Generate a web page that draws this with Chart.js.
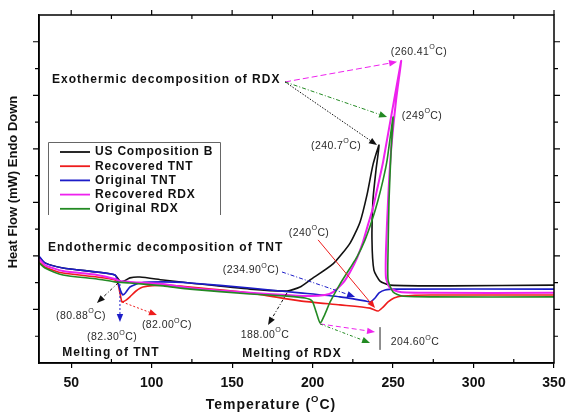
<!DOCTYPE html>
<html><head><meta charset="utf-8">
<script src="https://cdn.jsdelivr.net/npm/chart.js@4"></script>
<style>html,body{margin:0;padding:0;background:#fff}canvas{display:block}</style>
</head><body>
<canvas id="c" width="568" height="413"></canvas>
<script>
// ---- data ----
const seriesNames = ['US Composition B','Recovered TNT','Original TNT','Recovered RDX','Original RDX'];

const tempCompB = [30.0,33.7,44.9,66.0,77.2,79.7,80.9,82.8,86.5,92.7,107.1,123.8,161.1,184.1,192.2,198.4,212.7,223.3,229.5,233.8,237.5,241.3,239.4,237.5,236.9,238.1,241.9,248.1,285.4,350.0];
const heatCompB = [3.96,3.74,3.55,3.40,3.29,3.10,3.03,3.06,3.18,3.21,3.10,2.99,2.76,2.69,2.84,3.10,3.70,4.48,5.27,6.28,7.40,8.14,7.21,6.09,4.60,3.47,3.06,2.91,2.88,2.91];

const tempRecTNT = [30.0,33.7,44.9,66.0,77.2,79.1,80.3,81.6,84.1,86.5,90.3,94.6,107.1,123.8,161.1,192.2,217.0,235.7,240.7,243.8,246.9,250.6,255.6,273.0,350.0];
const heatRecTNT = [3.77,3.59,3.36,3.21,3.10,2.95,2.62,2.28,2.35,2.47,2.69,2.84,2.91,2.84,2.62,2.32,2.17,2.05,1.94,2.09,2.28,2.43,2.50,2.54,2.54];

const tempOrigTNT = [30.0,33.7,44.9,66.0,77.2,79.1,80.3,82.2,84.1,86.5,92.7,107.1,123.8,161.1,192.2,217.0,232.6,235.7,238.8,241.3,245.0,251.2,350.0];
const heatOrigTNT = [4.00,3.74,3.55,3.40,3.29,3.03,2.76,2.54,2.65,2.84,2.99,3.03,2.99,2.80,2.62,2.47,2.32,2.28,2.43,2.62,2.73,2.76,2.76];

const tempRecRDX = [30.0,33.7,44.9,66.0,77.2,80.3,86.5,107.1,123.8,161.1,184.1,198.4,207.7,212.7,218.9,223.3,227.6,231.3,234.4,237.5,240.7,243.8,255.0,251.9,248.8,246.9,245.6,245.6,248.1,254.4,273.0,350.0];
const heatRecRDX = [3.89,3.66,3.44,3.29,3.14,3.06,3.03,2.95,2.80,2.62,2.54,2.50,2.54,2.65,2.99,3.40,3.92,4.52,5.16,5.79,6.65,7.51,11.28,9.83,7.96,6.09,4.22,3.18,2.80,2.65,2.62,2.62];

const tempOrigRDX = [30.0,33.7,44.9,66.0,77.2,86.5,107.1,123.8,161.1,184.1,195.3,199.7,202.2,204.7,207.2,210.9,217.0,223.3,227.6,232.6,237.0,240.7,243.8,246.3,250.0,248.8,247.5,246.9,246.9,250.0,255.6,273.0,350.0];
const heatOrigRDX = [3.74,3.55,3.29,3.14,3.03,2.99,2.88,2.76,2.58,2.50,2.43,2.32,1.91,1.49,1.76,2.28,2.95,3.55,3.96,4.60,5.34,6.09,6.84,7.58,9.19,7.96,6.09,4.22,3.10,2.65,2.50,2.47,2.47];

const xTickValues = [50,100,150,200,250,300,350];
const xMinorValues = [75,125,175,225,275,325];
const yTickValues = [1,2,3,4,5,6,7,8,9,10,11,12];

// ---- styles ----
const seriesColors = ['#111111','#ee1c1c','#1c1cc8','#ee22ee','#238a23'];
const temps = [tempCompB,tempRecTNT,tempOrigTNT,tempRecRDX,tempOrigRDX];
const heats = [heatCompB,heatRecTNT,heatOrigTNT,heatRecRDX,heatOrigRDX];

// annotation arrows and labels, positioned in data units
const arrowDefs = [
  {from:[182.9,10.50], to:[252.5,11.25], color:'#ee22ee', dash:[6,3]},
  {from:[182.9,10.50], to:[246.3,9.19], color:'#238a23', dash:[4,2,1,2]},
  {from:[182.9,10.50], to:[240.0,8.14], color:'#111', dash:[1.5,1.5]},
  {from:[181.0,3.40], to:[226.4,2.47], color:'#1c1cc8', dash:[4,2,1,2]},
  {from:[203.4,4.60], to:[238.8,2.05], color:'#ee1c1c', dash:[]},
  {from:[184.1,2.62], to:[172.3,1.42], color:'#111', dash:[3,2,1,2]},
  {from:[204.6,1.46], to:[238.8,1.16], color:'#ee22ee', dash:[5,3]},
  {from:[204.6,1.46], to:[235.7,0.75], color:'#238a23', dash:[3,2,1,2]},
  {from:[79.1,2.99], to:[66.0,2.24], color:'#111', dash:[3,2,1,2]},
  {from:[80.3,2.95], to:[80.3,1.53], color:'#1c1cc8', dash:[2,2]},
  {from:[81.6,2.28], to:[103.3,1.79], color:'#ee1c1c', dash:[2,2]}
];
const markerLine = {from:[241.9,1.34], to:[241.9,0.49]};
const noteDefs = [
  {parts:[['Exothermic decomposition of RDX',0]], at:[38.1,10.57], align:'left', bold:true},
  {parts:[['(260.41',0],['O',1],['C)',0]], at:[266.1,11.62], align:'center'},
  {parts:[['(249',0],['O',1],['C)',0]], at:[268.0,9.23], align:'center'},
  {parts:[['(240.7',0],['O',1],['C)',0]], at:[214.6,8.11], align:'center'},
  {parts:[['Endothermic decomposition of TNT',0]], at:[35.6,4.30], align:'left', bold:true},
  {parts:[['(234.90',0],['O',1],['C)',0]], at:[161.7,3.47], align:'center'},
  {parts:[['(240',0],['O',1],['C)',0]], at:[197.8,4.86], align:'center'},
  {parts:[['188.00',0],['O',1],['C',0]], at:[170.4,1.05], align:'center'},
  {parts:[['Melting of RDX',0]], at:[187.2,0.34], align:'center', bold:true},
  {parts:[['204.60',0],['O',1],['C',0]], at:[263.6,0.78], align:'center'},
  {parts:[['(80.88',0],['O',1],['C)',0]], at:[56.1,1.76], align:'center'},
  {parts:[['(82.30',0],['O',1],['C)',0]], at:[75.4,0.97], align:'center'},
  {parts:[['(82.00',0],['O',1],['C)',0]], at:[109.5,1.42], align:'center'},
  {parts:[['Melting of TNT',0]], at:[74.7,0.37], align:'center', bold:true}
];
const FONT = '"Liberation Sans", Arial, sans-serif';

function drawRich(ctx, parts, x, y, align, size, bold, color, spacing){
  const w = bold ? 'bold ' : '';
  ctx.save();
  ctx.fillStyle = color;
  ctx.textBaseline = 'middle';
  ctx.textAlign = 'left';
  try { ctx.letterSpacing = spacing + 'px'; } catch(e){}
  let total = 0;
  const widths = parts.map(([t,s])=>{
    ctx.font = w + (s ? size*0.68 : size) + 'px ' + FONT;
    const m = ctx.measureText(t).width; total += m; return m;
  });
  let cx = align === 'center' ? x - total/2 : x;
  parts.forEach(([t,s],i)=>{
    ctx.font = w + (s ? size*0.68 : size) + 'px ' + FONT;
    ctx.fillText(t, cx, s ? y - size*0.42 : y);
    cx += widths[i];
  });
  ctx.restore();
}

function drawArrow(ctx, x1,y1,x2,y2,color,dash){
  const ang = Math.atan2(y2-y1, x2-x1);
  const hl = 8, hw = 3.2;
  const bx = x2 - hl*Math.cos(ang), by = y2 - hl*Math.sin(ang);
  ctx.save();
  ctx.strokeStyle = color; ctx.fillStyle = color; ctx.lineWidth = 1;
  ctx.setLineDash(dash);
  ctx.beginPath(); ctx.moveTo(x1,y1); ctx.lineTo(bx,by); ctx.stroke();
  ctx.setLineDash([]);
  ctx.beginPath();
  ctx.moveTo(x2,y2);
  ctx.lineTo(bx + hw*Math.sin(ang), by - hw*Math.cos(ang));
  ctx.lineTo(bx - hw*Math.sin(ang), by + hw*Math.cos(ang));
  ctx.closePath(); ctx.fill();
  ctx.restore();
}

const decorPlugin = {
  id:'decor',
  afterDatasetsDraw(chart){
    const ctx = chart.ctx, xs = chart.scales.x, ys = chart.scales.y;
    const X = v => xs.getPixelForValue(v), Y = v => ys.getPixelForValue(v);
    arrowDefs.forEach(a => drawArrow(ctx, X(a.from[0]),Y(a.from[1]),X(a.to[0]),Y(a.to[1]),a.color,a.dash));
    ctx.save(); ctx.strokeStyle='#222'; ctx.lineWidth=1;
    ctx.beginPath(); ctx.moveTo(X(markerLine.from[0]),Y(markerLine.from[1])); ctx.lineTo(X(markerLine.to[0]),Y(markerLine.to[1])); ctx.stroke();
    ctx.restore();
    noteDefs.forEach(n => {
      if (n.bold) drawRich(ctx, n.parts, X(n.at[0]), Y(n.at[1]), n.align, 12, true, '#111', 1.0);
      else drawRich(ctx, n.parts, X(n.at[0]), Y(n.at[1]), n.align, 10.5, false, '#2a2a2a', 0.4);
    });
    // legend
    const ca = chart.chartArea;
    const lx = ca.left + 9, ly = 142, lw = 172, lh = 73;
    ctx.save();
    ctx.strokeStyle = '#666'; ctx.lineWidth = 1;
    ctx.beginPath();
    ctx.moveTo(lx+0.5, ly+lh); ctx.lineTo(lx+0.5, ly+0.5); ctx.lineTo(lx+lw+0.5, ly+0.5); ctx.lineTo(lx+lw+0.5, ly+lh);
    ctx.stroke();
    chart.data.datasets.forEach((ds,i)=>{
      const ry = ly + 10 + i*14.2;
      ctx.strokeStyle = ds.borderColor; ctx.lineWidth = 1.8;
      ctx.beginPath(); ctx.moveTo(lx+12, ry); ctx.lineTo(lx+42, ry); ctx.stroke();
      drawRich(ctx, [[ds.label,0]], lx+47, ry, 'left', 12, true, '#111', 0.8);
    });
    ctx.restore();
  },
  afterDraw(chart){
    const ctx = chart.ctx, xs = chart.scales.x, ys = chart.scales.y, ca = chart.chartArea;
    ctx.save();
    ctx.strokeStyle = '#000'; ctx.lineWidth = 1.5;
    ctx.strokeRect(ca.left, ca.top, ca.right-ca.left, ca.bottom-ca.top);
    ctx.lineWidth = 1.2;
    ctx.beginPath();
    xTickValues.forEach(v => { const px = xs.getPixelForValue(v); ctx.moveTo(px, ca.top); ctx.lineTo(px, ca.top-5); });
    xMinorValues.forEach(v => { const px = xs.getPixelForValue(v);
      ctx.moveTo(px, ca.top); ctx.lineTo(px, ca.top+4);
      ctx.moveTo(px, ca.bottom); ctx.lineTo(px, ca.bottom-4); });
    yTickValues.forEach(v => { const py = ys.getPixelForValue(v); const len = v%2===0 ? 6 : 4;
      ctx.moveTo(ca.left, py); ctx.lineTo(ca.left-len, py);
      ctx.moveTo(ca.right, py); ctx.lineTo(ca.right+len, py); });
    ctx.stroke();
    ctx.restore();
    // axis titles
    drawRich(ctx, [['Temperature (',0],['O',1],['C)',0]], 271, 405, 'center', 14, true, '#111', 1);
    ctx.save();
    ctx.translate(13, 182); ctx.rotate(-Math.PI/2);
    drawRich(ctx, [['Heat Flow (mW) Endo Down',0]], 0, 0, 'center', 13, true, '#111', 0);
    ctx.restore();
  }
};

new Chart(document.getElementById('c'), {
  type:'scatter',
  data:{
    datasets: seriesNames.map((name,i)=>({
      label:name,
      data: temps[i].map((t,j)=>({x:t, y:heats[i][j]})),
      showLine:true, borderColor:seriesColors[i], backgroundColor:seriesColors[i],
      borderWidth: i===3 ? 2 : 1.6, pointRadius:0, tension:0.2, fill:false,
      order: 4-i
    }))
  },
  options:{
    responsive:false, animation:false, devicePixelRatio:1,
    layout:{padding:{top:15, right:14, left:0, bottom:0}},
    plugins:{legend:{display:false}, tooltip:{enabled:false}},
    scales:{
      x:{
        type:'linear', min:30, max:350,
        afterBuildTicks: s => { s.ticks = xTickValues.map(v=>({value:v})); },
        afterFit: s => { s.height = 50; s.paddingLeft = 0; s.paddingRight = 0; },
        grid:{drawOnChartArea:false, drawTicks:true, tickLength:5, color:'#000', lineWidth:1.2},
        border:{display:true, color:'#000', width:1.5},
        ticks:{font:{family:FONT, weight:'bold', size:14}, color:'#111', padding:7, maxRotation:0, autoSkip:false},
        title:{display:false}
      },
      y:{
        type:'linear', min:0, max:13,
        afterFit: s => { s.width = 39; s.paddingTop = 0; s.paddingBottom = 0; },
        ticks:{display:false},
        grid:{display:false},
        border:{display:true, color:'#000', width:1.5},
        title:{display:false}
      }
    }
  },
  plugins:[decorPlugin]
});
</script>
</body></html>
